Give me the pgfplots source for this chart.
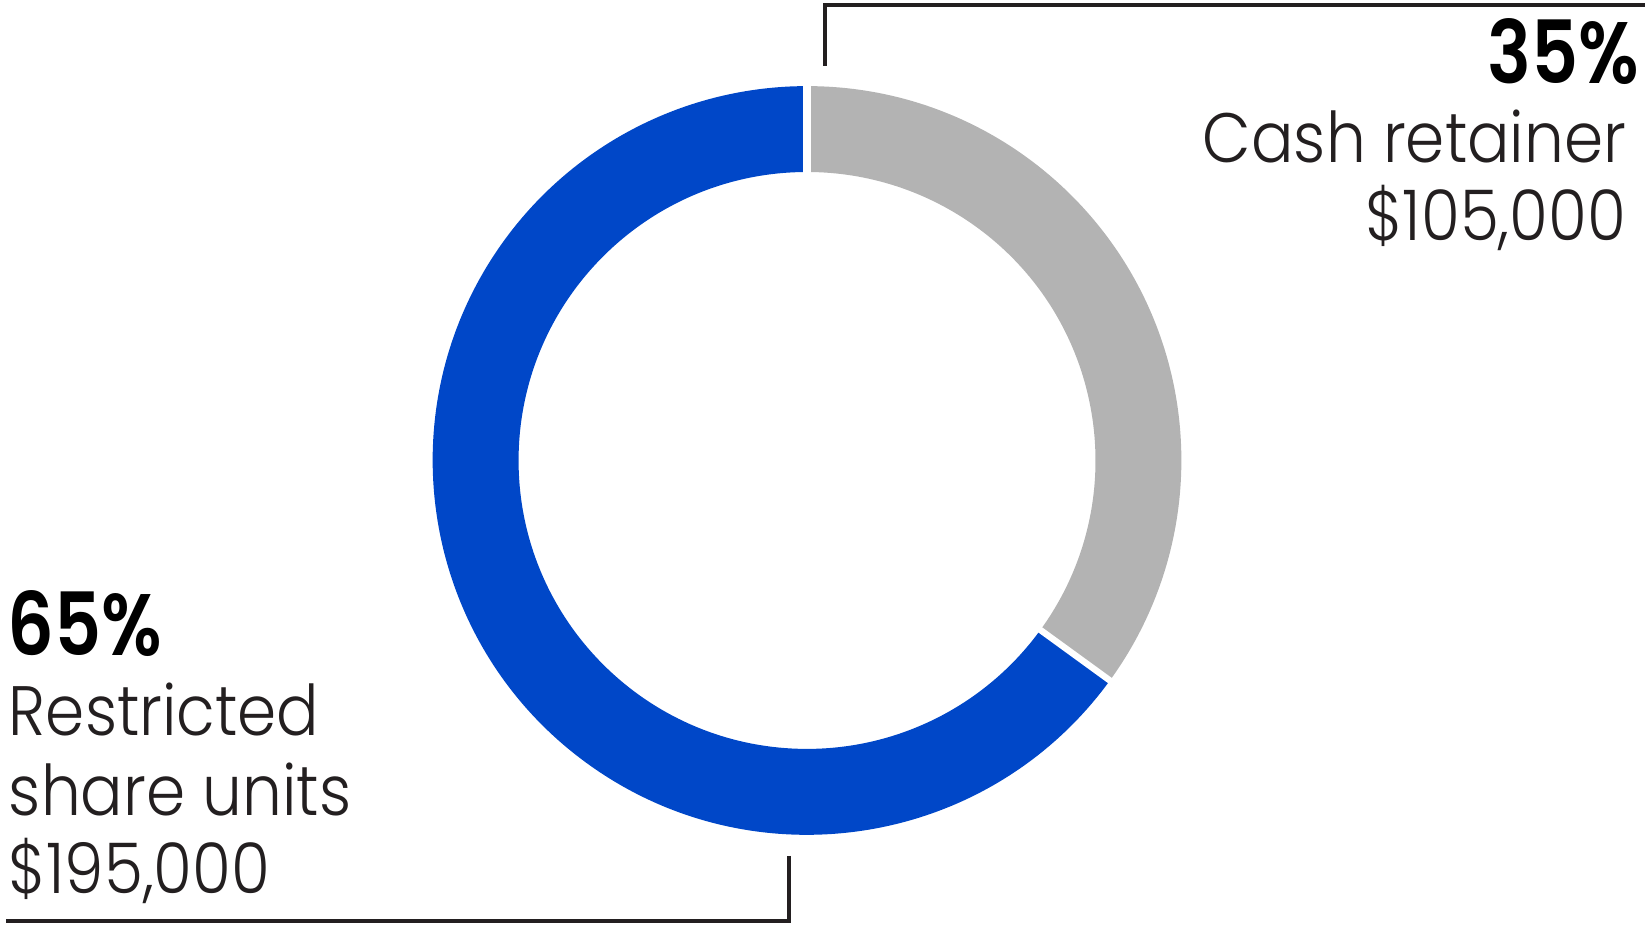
\documentclass[border=0pt]{standalone}
\usepackage{pgfplots}
\pgfplotsset{compat=1.18}
\usepackage{pgfplotstable}
\usepackage{fontspec}
\setmainfont{Poppins}[UprightFont=* Light, BoldFont=* SemiBold,
  UprightFeatures={FakeStretch=0.9}, BoldFeatures={FakeStretch=0.84}]

\definecolor{rsublue}{HTML}{0047C8}
\definecolor{cashgray}{HTML}{B3B3B3}
\definecolor{ink}{HTML}{231F20}

% shares of the director pay, in percent
\pgfplotstableread{
part value
cash 35
rsu  65
}\shares

\begin{document}
\begin{tikzpicture}
\pgfplotstablegetelem{0}{value}\of\shares
\pgfmathsetmacro{\cashend}{90-3.6*\pgfplotsretval}
\pgfmathsetmacro{\rsuend}{\cashend-3.6*(100-\pgfplotsretval)}
\def\Ro{93.7pt}
\def\Ri{72.2pt}
\tikzset{lbl/.style={inner sep=0pt, outer sep=0pt, text=ink, font=\fontsize{17.5}{20}\selectfont},
         pct/.style={inner sep=0pt, outer sep=0pt, text=black, font=\fontsize{21.8}{24}\selectfont\bfseries}}
\begin{axis}[
  x=0.25pt, y=0.25pt,
  xmin=0, xmax=1647, ymin=0, ymax=934,
  y dir=reverse,
  scale only axis, hide axis, clip=false,
]
\path (axis cs:0,0) rectangle (axis cs:1647,934);
\coordinate (c) at (axis cs:808,461);
% donut slices
\fill[cashgray] ([shift={(90:\Ro)}]c) arc[start angle=90, end angle=\cashend, radius=\Ro]
  -- ([shift={(\cashend:\Ri)}]c) arc[start angle=\cashend, end angle=90, radius=\Ri] -- cycle;
\fill[rsublue] ([shift={(\cashend:\Ro)}]c) arc[start angle=\cashend, end angle=\rsuend, radius=\Ro]
  -- ([shift={(\rsuend:\Ri)}]c) arc[start angle=\rsuend, end angle=\cashend, radius=\Ri] -- cycle;
\draw[white, line width=2pt] ([shift={(90:70pt)}]c) -- ([shift={(90:96pt)}]c);
\draw[white, line width=1.6pt] ([shift={(\cashend:70pt)}]c) -- ([shift={(\cashend:96pt)}]c);
% leader lines
\draw[ink, line width=1pt] (axis cs:826,66) -- (axis cs:826,5) -- (axis cs:1647,5);
\draw[ink, line width=1pt] (axis cs:790,857) -- (axis cs:790,922) -- (axis cs:6,922);
% labels
\node[pct, anchor=base east] at (axis cs:1641,84) {35\%};
\node[lbl, anchor=base east] at (axis cs:1628,163) {Cash retainer};
\node[lbl, anchor=base east] at (axis cs:1628,241) {\$105,000};
\node[pct, anchor=base west] at (axis cs:8,656) {65\%};
\node[lbl, anchor=base west] at (axis cs:9,736) {Restricted};
\node[lbl, anchor=base west] at (axis cs:9,816) {share units};
\node[lbl, anchor=base west] at (axis cs:9,895) {\$195,000};
\end{axis}
\end{tikzpicture}
\end{document}
